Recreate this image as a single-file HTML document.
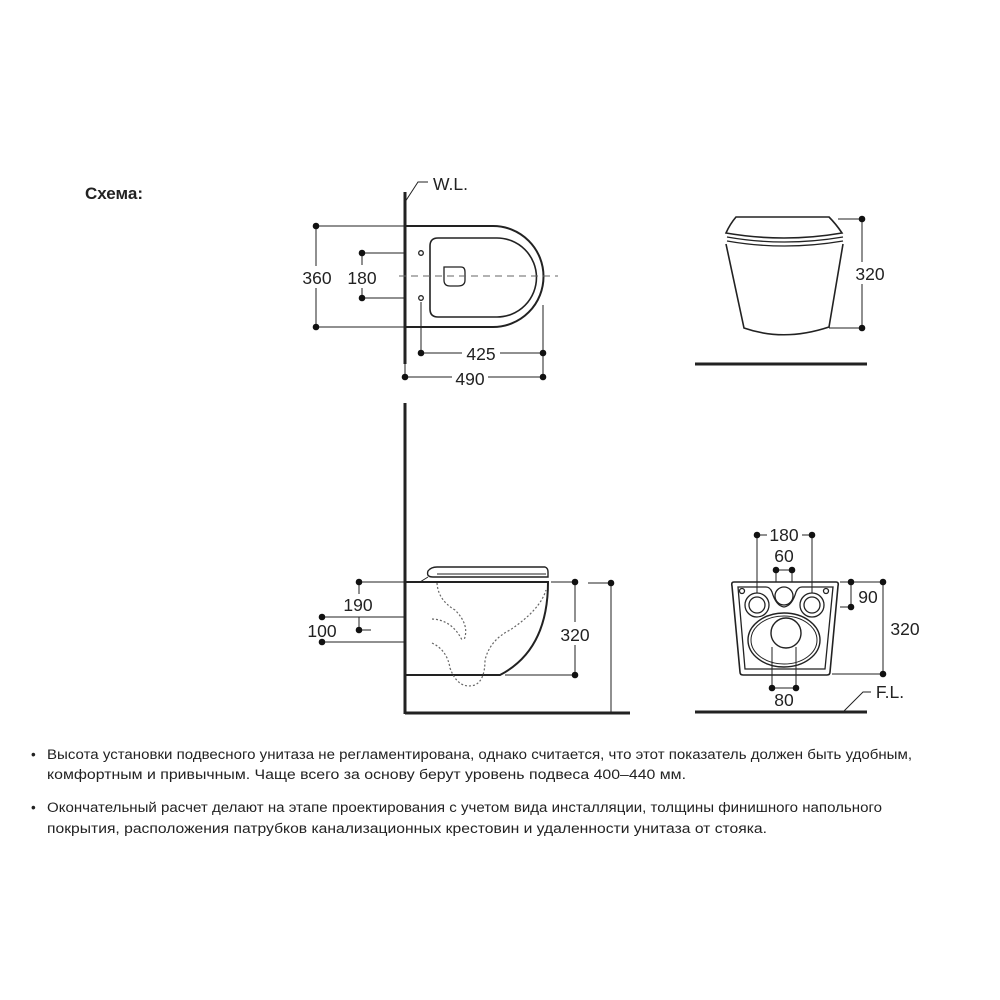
<!DOCTYPE html>
<html><head><meta charset="utf-8"><style>
html,body{margin:0;padding:0;background:#fff}
svg{display:block}
text{font-family:"Liberation Sans",sans-serif;fill:#222}
</style></head><body>
<svg width="1000" height="1000" viewBox="0 0 1000 1000" xmlns="http://www.w3.org/2000/svg">
<rect width="1000" height="1000" fill="#fff"/>
<text x="85" y="199" font-size="17" font-weight="bold" fill="#111">Схема:</text>

<g stroke="#222" fill="none" stroke-width="1.3">
<!-- TOP VIEW -->
<line x1="405" y1="192" x2="405" y2="364" stroke-width="3"/>
<polyline points="405,202 418,182 428,182" stroke-width="1"/>
<path d="M405,226 L493,226 A50.5,50.5 0 0 1 493,327 L405,327" stroke-width="2"/>
<path d="M438,238 L497,238 A39.5,39.5 0 0 1 497,317 L438,317 Q430,317 430,309 L430,246 Q430,238 438,238 Z" stroke-width="1.6"/>
<path d="M444,267 L461,267 Q465,267 465,272 L465,280 Q465,286 458,286 L450,286 Q444,286 444,280 Z" stroke-width="1.3"/>
<circle cx="421" cy="253" r="2.3"/>
<circle cx="421" cy="298" r="2.3"/>
<line x1="399" y1="276" x2="558" y2="276" stroke-dasharray="7,5" stroke="#666" stroke-width="1"/>
<!-- 360 -->
<line x1="316" y1="226" x2="405" y2="226" stroke-width="1"/>
<line x1="316" y1="327" x2="405" y2="327" stroke-width="1"/>
<line x1="316" y1="226" x2="316" y2="266" stroke-width="1"/>
<line x1="316" y1="288" x2="316" y2="327" stroke-width="1"/>
<!-- 180 -->
<line x1="362" y1="253" x2="405" y2="253" stroke-width="1"/>
<line x1="362" y1="298" x2="405" y2="298" stroke-width="1"/>
<line x1="362" y1="253" x2="362" y2="265" stroke-width="1"/>
<line x1="362" y1="288" x2="362" y2="298" stroke-width="1"/>
<!-- 425 -->
<line x1="421" y1="302" x2="421" y2="353" stroke-width="1"/>
<line x1="543" y1="305" x2="543" y2="377" stroke-width="1"/>
<line x1="421" y1="353" x2="462" y2="353" stroke-width="1"/>
<line x1="500" y1="353" x2="543" y2="353" stroke-width="1"/>
<!-- 490 -->
<line x1="405" y1="364" x2="405" y2="377" stroke-width="1"/>
<line x1="405" y1="377" x2="452" y2="377" stroke-width="1"/>
<line x1="488" y1="377" x2="543" y2="377" stroke-width="1"/>

<!-- FRONT VIEW TOP RIGHT -->
<path d="M736,217 L829,217 Q836,224 842,233 Q784,243 726,233 Q730,224 736,217 Z" stroke-width="1.6"/>
<path d="M727,237 Q784,247 843,237" stroke-width="1.3"/>
<path d="M727,241 Q784,251 843,241" stroke-width="1.3"/>
<path d="M726,244 L744,328 Q784,342 829,327 L843,244" stroke-width="1.6"/>
<line x1="838" y1="219" x2="862" y2="219" stroke-width="1"/>
<line x1="829" y1="328" x2="862" y2="328" stroke-width="1"/>
<line x1="862" y1="219" x2="862" y2="262" stroke-width="1"/>
<line x1="862" y1="284" x2="862" y2="328" stroke-width="1"/>
<line x1="695" y1="364" x2="867" y2="364" stroke-width="3"/>

<!-- SIDE VIEW -->
<line x1="405" y1="403" x2="405" y2="714" stroke-width="3"/>
<line x1="405" y1="713" x2="630" y2="713" stroke-width="3"/>
<path d="M405,582 L548,582 Q548,650 500,675 L405,675" stroke-width="2"/>
<path d="M433,577 Q426,577 428,571 Q431,567 437,567 L545,567 Q548,568 548,572 L548,577 Z" stroke-width="1.4"/>
<line x1="437" y1="574" x2="546" y2="574" stroke-width="1"/>
<path d="M420,582 L428,577" stroke-width="1"/>
<g stroke="#666" stroke-dasharray="2,2" stroke-width="1.2">
<path d="M437,583 Q438,600 455,610 Q470,625 464,640"/>
<path d="M432,619 Q452,620 462,640"/>
<path d="M432,643 Q447,650 450,668 Q458,690 475,685 Q485,680 485,660 Q490,640 510,630 Q540,610 546,590"/>
</g>
<!-- 190 -->
<line x1="359" y1="582" x2="405" y2="582" stroke-width="1"/>
<line x1="359" y1="582" x2="359" y2="594" stroke-width="1"/>
<line x1="359" y1="617" x2="359" y2="630" stroke-width="1"/>
<line x1="359" y1="630" x2="371" y2="630" stroke-width="1"/>
<!-- 100 -->
<line x1="322" y1="617" x2="405" y2="617" stroke-width="1"/>
<line x1="322" y1="642" x2="405" y2="642" stroke-width="1"/>
<!-- 320 -->
<line x1="551" y1="582" x2="575" y2="582" stroke-width="1"/>
<line x1="505" y1="675" x2="575" y2="675" stroke-width="1"/>
<line x1="575" y1="582" x2="575" y2="622" stroke-width="1"/>
<line x1="575" y1="645" x2="575" y2="675" stroke-width="1"/>
<line x1="588" y1="583" x2="611" y2="583" stroke-width="1"/>
<line x1="611" y1="583" x2="611" y2="713" stroke-width="1"/>

<!-- BACK VIEW -->
<path d="M734,582 L836,582 Q839,582 838,586 L830,672 Q830,675 827,675 L743,675 Q740,675 740,672 L732,586 Q731,582 734,582 Z" stroke-width="1.6"/>
<path d="M738,587 L766,587 Q770,587 772,592 Q776,606 784,607 Q792,606 796,592 Q798,587 802,587 L833,587 L825,669 L745,669 Z" stroke-width="1.3"/>
<circle cx="742" cy="591" r="2.5"/>
<circle cx="826" cy="591" r="2.5"/>
<circle cx="757" cy="605" r="12"/>
<circle cx="757" cy="605" r="8"/>
<circle cx="812" cy="605" r="12"/>
<circle cx="812" cy="605" r="8"/>
<circle cx="784" cy="596" r="9"/>
<ellipse cx="784" cy="640" rx="36" ry="27" stroke-width="1.4"/>
<ellipse cx="784" cy="640" rx="33" ry="24" stroke-width="1"/>
<circle cx="786" cy="633" r="15" stroke-width="1.4"/>
<!-- 180 -->
<line x1="757" y1="535" x2="757" y2="593" stroke-width="1"/>
<line x1="812" y1="535" x2="812" y2="593" stroke-width="1"/>
<line x1="757" y1="535" x2="767" y2="535" stroke-width="1"/>
<line x1="802" y1="535" x2="812" y2="535" stroke-width="1"/>
<!-- 60 -->
<line x1="776" y1="570" x2="792" y2="570" stroke-width="1"/>
<line x1="776" y1="570" x2="776" y2="582" stroke-width="1"/>
<line x1="792" y1="570" x2="792" y2="582" stroke-width="1"/>
<!-- 80 -->
<line x1="772" y1="647" x2="772" y2="688" stroke-width="1"/>
<line x1="796" y1="647" x2="796" y2="688" stroke-width="1"/>
<line x1="772" y1="688" x2="796" y2="688" stroke-width="1"/>
<!-- 90 / 320 -->
<line x1="840" y1="582" x2="883" y2="582" stroke-width="1"/>
<line x1="840" y1="607" x2="851" y2="607" stroke-width="1"/>
<line x1="851" y1="582" x2="851" y2="607" stroke-width="1"/>
<line x1="832" y1="674" x2="883" y2="674" stroke-width="1"/>
<line x1="883" y1="582" x2="883" y2="674" stroke-width="1"/>
<line x1="695" y1="712" x2="867" y2="712" stroke-width="3"/>
<polyline points="843,712 863,692 871,692" stroke-width="1"/>
</g>

<g fill="#111">
<circle cx="316" cy="226" r="3.3"/><circle cx="316" cy="327" r="3.3"/>
<circle cx="362" cy="253" r="3.3"/><circle cx="362" cy="298" r="3.3"/>
<circle cx="421" cy="353" r="3.3"/><circle cx="543" cy="353" r="3.3"/>
<circle cx="405" cy="377" r="3.3"/><circle cx="543" cy="377" r="3.3"/>
<circle cx="862" cy="219" r="3.3"/><circle cx="862" cy="328" r="3.3"/>
<circle cx="359" cy="582" r="3.3"/><circle cx="359" cy="630" r="3.3"/>
<circle cx="322" cy="617" r="3.3"/><circle cx="322" cy="642" r="3.3"/>
<circle cx="575" cy="582" r="3.3"/><circle cx="575" cy="675" r="3.3"/>
<circle cx="611" cy="583" r="3.3"/>
<circle cx="757" cy="535" r="3.3"/><circle cx="812" cy="535" r="3.3"/>
<circle cx="776" cy="570" r="3.3"/><circle cx="792" cy="570" r="3.3"/>
<circle cx="772" cy="688" r="3.3"/><circle cx="796" cy="688" r="3.3"/>
<circle cx="851" cy="582" r="3.3"/><circle cx="851" cy="607" r="3.3"/>
<circle cx="883" cy="582" r="3.3"/><circle cx="883" cy="674" r="3.3"/>
</g>

<g font-size="17.5" text-anchor="middle">
<text x="433" y="190" text-anchor="start">W.L.</text>
<text x="317" y="284">360</text>
<text x="362" y="284">180</text>
<text x="481" y="360">425</text>
<text x="470" y="385">490</text>
<text x="870" y="280">320</text>
<text x="358" y="611">190</text>
<text x="322" y="637">100</text>
<text x="575" y="641">320</text>
<text x="784" y="541">180</text>
<text x="784" y="562">60</text>
<text x="868" y="603">90</text>
<text x="905" y="635">320</text>
<text x="784" y="706">80</text>
<text x="890" y="698">F.L.</text>
</g>

<g font-size="13.5" fill="#333">
<text x="31" y="759">•</text>
<text x="47" y="759" textLength="865" lengthAdjust="spacingAndGlyphs">Высота установки подвесного унитаза не регламентирована, однако считается, что этот показатель должен быть удобным,</text>
<text x="47" y="779" textLength="639" lengthAdjust="spacingAndGlyphs">комфортным и привычным. Чаще всего за основу берут уровень подвеса 400–440 мм.</text>
<text x="31" y="812">•</text>
<text x="47" y="812" textLength="835" lengthAdjust="spacingAndGlyphs">Окончательный расчет делают на этапе проектирования с учетом вида инсталляции, толщины финишного напольного</text>
<text x="47" y="833" textLength="720" lengthAdjust="spacingAndGlyphs">покрытия, расположения патрубков канализационных крестовин и удаленности унитаза от стояка.</text>
</g>
</svg>
</body></html>
